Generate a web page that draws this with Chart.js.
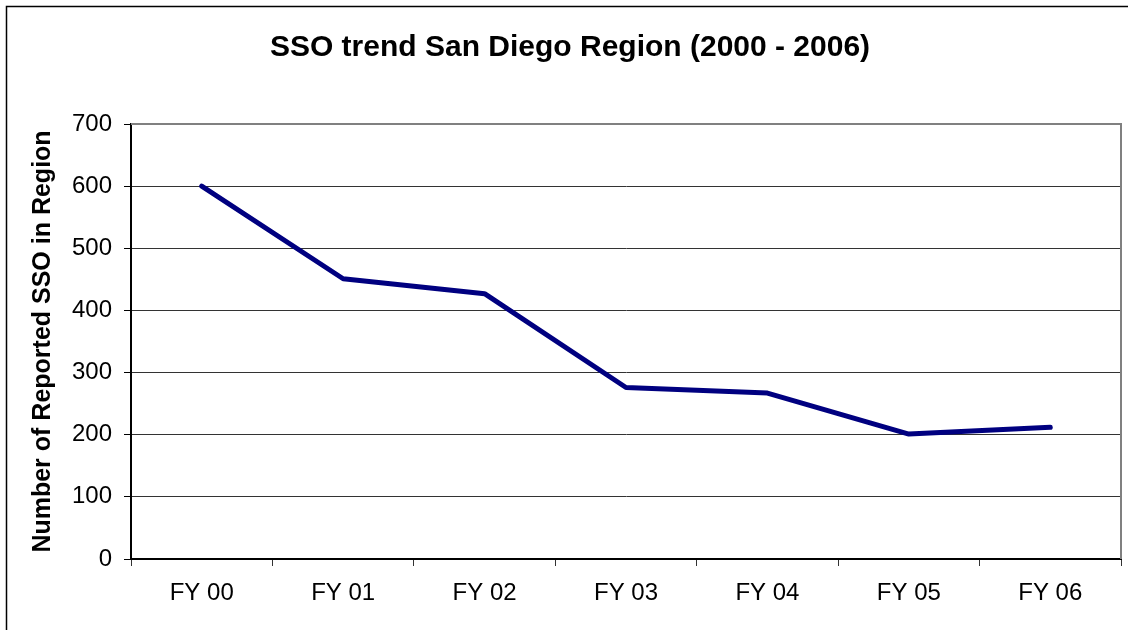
<!DOCTYPE html>
<html>
<head>
<meta charset="utf-8">
<title>SSO trend San Diego Region</title>
<script src="https://cdn.jsdelivr.net/npm/chart.js@4/dist/chart.umd.min.js"></script>
<style>
  html, body { margin: 0; padding: 0; background: #fff; }
  #wrap { width: 1128px; height: 630px; position: relative; }
</style>
</head>
<body>
<div id="wrap"><canvas id="ssoChart"></canvas></div>
<script>
// 年度ラベルと報告件数
const fiscalYears = ['FY 00', 'FY 01', 'FY 02', 'FY 03', 'FY 04', 'FY 05', 'FY 06'];
const reportedSSO = [600, 451, 427, 276, 267, 201, 212];
const yTicks = [0, 100, 200, 300, 400, 500, 600, 700];

const FONT = "'Liberation Sans', Arial, sans-serif";
const NAVY = '#000080';

Chart.defaults.font.family = FONT;
Chart.defaults.color = '#000';

// 外枠とプロット領域の上・右の枠線
const framePlugin = {
  id: 'frame',
  beforeDraw(chart) {
    const c = chart.ctx;
    c.save();
    c.fillStyle = '#fff';
    c.fillRect(0, 0, chart.width, chart.height);
    c.strokeStyle = '#000';
    c.lineWidth = 1.5;
    c.beginPath();
    c.moveTo(6.5, chart.height + 5);
    c.lineTo(6.5, 6.5);
    c.lineTo(chart.width + 5, 6.5);
    c.stroke();
    c.restore();
  },
  afterDraw(chart) {
    const a = chart.chartArea;
    const c = chart.ctx;
    c.save();
    c.strokeStyle = '#808080';
    c.lineWidth = 2;
    c.beginPath();
    c.moveTo(a.left, a.top);
    c.lineTo(a.right, a.top);
    c.lineTo(a.right, a.bottom);
    c.stroke();
    c.restore();
  },
};

new Chart(document.getElementById('ssoChart'), {
  type: 'line',
  data: {
    labels: fiscalYears,
    datasets: [
      {
        label: 'SSO',
        data: reportedSSO,
        borderColor: NAVY,
        borderWidth: 5,
        borderCapStyle: 'round',
        borderJoinStyle: 'round',
        pointRadius: 0,
        tension: 0,
        fill: false,
      },
    ],
  },
  options: {
    responsive: true,
    maintainAspectRatio: false,
    animation: false,
    layout: { padding: { left: 19, right: 7, top: 0, bottom: 0 } },
    scales: {
      x: {
        offset: true,
        grid: {
          offset: true,
          drawOnChartArea: false,
          drawTicks: true,
          tickLength: 7,
          tickColor: '#333',
        },
        border: { color: '#000', width: 2 },
        ticks: { font: { size: 24 }, color: '#000', padding: 13 },
        afterFit: scale => { scale.height = 71; },
      },
      y: {
        min: 0,
        max: 700,
        afterBuildTicks: scale => { scale.ticks = yTicks.map(v => ({ value: v })); },
        grid: {
          color: ctx => (ctx.tick && ctx.tick.value === 700 ? '#808080' : '#333'),
          tickColor: '#000',
          tickLength: 7,
          lineWidth: 1,
        },
        border: { color: '#000', width: 2 },
        ticks: { font: { size: 24 }, color: '#000', padding: 12 },
        title: {
          display: true,
          text: 'Number of Reported SSO in Region',
          font: { size: 25, weight: 'bold' },
          color: '#000',
          padding: { top: 9, bottom: 0 },
        },
        afterFit: scale => { scale.width = 112; },
      },
    },
    plugins: {
      legend: { display: false },
      tooltip: { enabled: false },
      title: {
        display: true,
        text: 'SSO trend San Diego Region (2000 - 2006)',
        font: { size: 30, weight: 'bold' },
        color: '#000',
        padding: { top: 30, bottom: 58 },
      },
    },
  },
  plugins: [framePlugin],
});
</script>
</body>
</html>
